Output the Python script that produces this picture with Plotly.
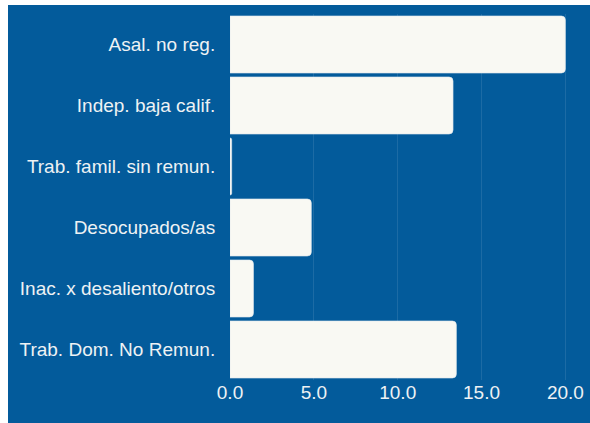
import plotly.graph_objects as go

categories = [
    "Asal. no reg.",
    "Indep. baja calif.",
    "Trab. famil. sin remun.",
    "Desocupados/as",
    "Inac. x desaliento/otros",
    "Trab. Dom. No Remun.",
]
values = [20.0, 13.3, 0.1, 4.85, 1.4, 13.5]
x_tickvals = [0, 5, 10, 15, 20]
x_ticktext = ["0.0", "5.0", "10.0", "15.0", "20.0"]

BG = "#035b9b"
BAR = "#f9f9f3"
TXT = "#eef2f4"

fig = go.Figure(
    go.Bar(
        x=values,
        y=categories,
        orientation="h",
        marker=dict(color=BAR, line=dict(color="#dfe8ee", width=0.6)),
        hoverinfo="x+y",
    )
)

fig.update_layout(
    width=582,
    height=418,
    paper_bgcolor=BG,
    plot_bgcolor=BG,
    margin=dict(l=222, r=7, t=9, b=43),
    bargap=0.065,
    barcornerradius=4,
    showlegend=False,
    font=dict(family="Liberation Sans, Arial, sans-serif", size=19, color=TXT),
)
fig.update_xaxes(
    range=[0, 21.05],
    tickvals=x_tickvals,
    ticktext=x_ticktext,
    showgrid=True,
    gridcolor="rgba(255,255,255,0.10)",
    gridwidth=1,
    zeroline=False,
    showline=False,
    ticks="",
    ticklabelstandoff=-1,
    tickfont=dict(size=19, color=TXT),
    fixedrange=True,
)
fig.update_yaxes(
    categoryorder="array",
    categoryarray=categories,
    autorange="reversed",
    showgrid=False,
    zeroline=False,
    showline=False,
    ticks="outside",
    ticklen=10,
    tickcolor=BG,
    tickfont=dict(size=19, color=TXT),
    fixedrange=True,
)

fig.write_html(
    "out.html",
    config={"displayModeBar": False},
    post_script="document.body.style.margin='5px 0 0 8px';document.body.style.overflow='hidden';",
)
